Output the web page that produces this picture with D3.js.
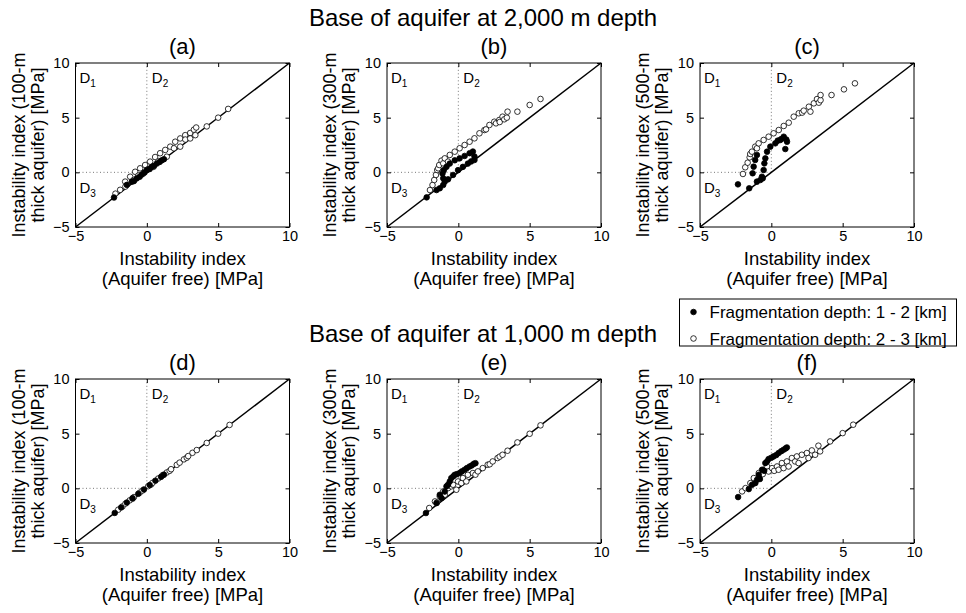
<!DOCTYPE html>
<html>
<head>
<meta charset="utf-8">
<title>Instability index</title>
<script src="https://d3js.org/d3.v7.min.js"></script>
<style>
    body {margin:0; background:#fff;}
    svg {font-family:"Liberation Sans", Arial, Helvetica, sans-serif;}
    .frame {fill:none; stroke:#000; stroke-width:1;}
    .diag {stroke:#000; stroke-width:1.5;}
    .quad {stroke:#777; stroke-width:1; stroke-dasharray:1,2.5;}
    .pt-open {fill:#fff; stroke:#000; stroke-width:0.8;}
    .pt-filled {fill:#000; stroke:#000; stroke-width:0.8;}
</style>
</head>
<body>
<script>
"use strict";

// --- data ---
var ticks = [-5, 0, 5, 10];
var panelLabels = ["(a)", "(b)", "(c)", "(d)", "(e)", "(f)"];
var thicknesses = ["100-m", "300-m", "500-m", "100-m", "300-m", "500-m"];
var rowTitles = ["Base of aquifer at 2,000 m depth", "Base of aquifer at 1,000 m depth"];
var legendLabels = ["Fragmentation depth: 1 - 2 [km]", "Fragmentation depth: 2 - 3 [km]"];

// [aquifer free, with aquifer] pairs, fragmentation depth 1-2 km (filled) and 2-3 km (open)
var aFilled = [[-2.3,-2.3],[-1.4,-1.15],[-1.05,-0.85],[-0.9,-0.8],[-0.7,-0.55],[-0.5,-0.4],[-0.35,-0.2],[-0.15,0],
    [0,0.2],[0.2,0.3],[0.35,0.5],[0.5,0.6],[0.7,0.8],[0.9,0.95],[1.05,1.1],[1.2,1.2]];
var aOpen = [[-2.2,-1.95],[-1.87,-1.6],[-1.52,-0.85],[-1.5,-1.3],[-1.17,-0.4],[-0.93,-0.7],[-0.82,0.05],[-0.6,-0.3],
    [-0.47,0.37],[-0.23,-0.1],[-0.12,0.67],[0.1,0.3],[0.23,0.98],[0.47,0.5],[0.58,1.4],[0.8,1.0],[0.93,1.75],
    [1.29,2.05],[1.4,1.43],[1.64,2.35],[1.9,2.2],[1.99,2.8],[2.34,3.1],[2.34,2.35],[2.69,3.4],[2.7,3.0],
    [3.04,3.6],[3.04,3.1],[3.3,3.9],[3.4,3.4],[3.46,4.1],[4.2,4.2],[5.0,5.0],[5.7,5.8]];

var bFilled = [[-2.22,-2.29],[-1.53,-1.62],[-1.3,-1.46],[-1.06,-1.16],[-0.95,-0.85],[-1.06,-0.55],[-1.11,-0.1],
    [-1.02,0.2],[-0.83,0.5],[-0.6,0.8],[-0.25,1.1],[0.09,1.28],[0.44,1.5],[0.79,1.75],[1.02,1.9],[1.13,1.45],
    [1.13,1.13],[-0.72,-0.64],[-0.37,-0.24],[-0.02,0.2],[0.32,0.5],[0.67,0.8],[0.9,1.0]];
var bOpen = [[-1.99,-1.62],[-1.81,-1.16],[-1.69,-0.7],[-1.57,-0.24],[-1.48,0.21],[-1.41,0.37],[-1.34,0.67],
    [-1.18,1.07],[-1.06,0.82],[-0.95,1.28],[-0.72,0.98],[-0.6,1.59],[-0.25,1.89],[0.09,2.2],[0.44,2.5],
    [0.79,2.8],[1.13,3.11],[1.48,3.57],[1.83,3.87],[1.94,3.93],[2.18,4.33],[2.52,4.63],[2.64,4.48],[2.87,4.79],
    [2.9,4.6],[3.1,5.09],[3.22,4.85],[3.4,5.0],[3.45,5.55],[4.14,5.55],[5.0,6.16],[5.76,6.71]];

var cFilled = [[-2.34,-1.1],[-1.55,-1.46],[-1.31,-0.09],[-1.24,0.52],[-1.13,1.13],[-1.01,1.59],[-1.01,-0.85],
    [-0.77,-0.7],[-0.6,-0.55],[-0.66,-0.4],[-0.54,0.21],[-0.49,0.82],[-0.42,1.28],[-0.3,1.89],[-0.07,2.35],
    [0.28,2.65],[0.45,2.9],[0.63,2.96],[0.7,3.05],[0.87,3.26],[1.05,3.0],[1.1,2.8],[0.98,2.13]];
var cOpen = [[-1.99,-0.15],[-1.83,0.46],[-1.66,0.88],[-1.52,1.37],[-1.48,1.68],[-1.36,1.89],[-1.13,2.35],
    [-1.01,2.2],[-0.89,2.65],[-0.54,2.96],[-0.19,3.26],[0.16,3.57],[0.52,3.87],[0.87,4.24],[1.22,4.54],
    [1.57,5.09],[1.92,5.4],[2.16,5.46],[2.27,5.64],[2.63,6.0],[2.74,5.55],[2.98,6.31],[3.2,6.7],[3.33,6.37],
    [3.45,6.6],[3.45,7.07],[4.22,7.07],[5.09,7.59],[5.86,8.14]];

var dFilled = [[-2.25,-2.25],[-1.8,-1.75],[-1.4,-1.3],[-1.0,-0.9],[-0.6,-0.5],[-0.2,-0.1],[0.2,0.3],
    [0.6,0.7],[1.0,1.05],[1.2,1.25]];
var dOpen = [[-2.0,-1.95],[-1.7,-1.65],[-1.5,-1.4],[-1.2,-1.1],[-1.0,-0.95],[-0.9,-0.8],[-0.5,-0.4],
    [-0.3,-0.2],[0.1,0.2],[0.3,0.35],[0.4,0.5],[0.8,0.9],[1.1,1.2],[1.4,1.45],[1.6,1.6],[1.7,1.75],
    [2.1,2.15],[2.3,2.35],[2.6,2.65],[2.8,2.8],[2.9,2.95],[3.2,3.25],[3.5,3.5],[4.2,4.15],[5.0,5.0],[5.8,5.8]];

var eFilled = [[-2.27,-2.26],[-1.53,-1.35],[-1.3,-0.59],[-1.18,-0.89],[-0.95,-0.3],[-0.83,0.18],[-0.72,0.33],
    [-0.6,0.63],[-0.49,0.94],[-0.35,1.1],[-0.25,1.24],[-0.1,1.3],[0.09,1.4],[0.25,1.55],[0.44,1.7],
    [0.6,1.85],[0.79,2.0],[0.95,2.1],[1.09,2.25],[1.2,2.3]];
var eOpen = [[-2.04,-1.8],[-1.64,-1.2],[-1.5,-1.3],[-1.3,-0.74],[-1.06,-0.28],[-0.95,-0.59],[-0.72,0.02],
    [-0.49,0.18],[-0.37,0.33],[-0.14,-0.13],[-0.02,0.63],[0.21,0.48],[0.32,0.94],[0.56,0.63],[0.67,1.24],
    [1.02,1.4],[1.2,1.25],[1.37,1.55],[1.71,1.85],[2.06,2.16],[2.2,2.2],[2.41,2.46],[2.75,2.77],[2.9,2.9],
    [3.1,3.07],[3.45,3.44],[4.14,4.2],[5.0,4.99],[5.76,5.76]];

var fFilled = [[-2.33,-0.8],[-1.58,-0.07],[-1.35,0.33],[-1.12,0.48],[-1.0,0.79],[-0.8,0.85],[-0.88,1.24],
    [-0.65,1.7],[-0.5,1.6],[-0.42,2.31],[-0.3,2.46],[-0.19,2.68],[0.0,2.8],[0.16,2.92],[0.35,3.05],
    [0.51,3.23],[0.7,3.4],[0.86,3.53],[1.0,3.65],[1.09,3.74]];
var fOpen = [[-2.05,-0.28],[-1.81,0.02],[-1.47,0.48],[-1.23,0.94],[-0.88,1.4],[-0.6,1.3],[-0.53,1.7],
    [-0.3,2.0],[-0.19,1.54],[0.05,1.85],[0.2,1.6],[0.4,2.0],[0.51,1.7],[0.74,2.31],[0.86,1.85],[1.09,2.46],
    [1.21,2.0],[1.44,2.77],[1.67,2.46],[1.79,2.92],[1.91,2.31],[2.14,3.07],[2.49,3.23],[2.6,2.77],
    [2.84,3.47],[3.07,3.07],[3.3,3.9],[3.42,3.38],[4.12,4.29],[5.0,5.05],[5.74,5.82]];

var filledSets = [aFilled, bFilled, cFilled, dFilled, eFilled, fFilled];
var openSets = [aOpen, bOpen, cOpen, dOpen, eOpen, fOpen];

// --- layout ---
var W = 214, H = 164;
var colX = [75.5, 387, 700];
var rowY = [63, 379];

var svg = d3.select("body").append("svg").attr("width", 966).attr("height", 613);

var x = d3.scaleLinear().domain([-5, 10]).range([0, W]);
var y = d3.scaleLinear().domain([-5, 10]).range([H, 0]);

function styleAxis(sel, labels) {
    sel.select(".domain").remove();
    sel.attr("font-family", null).attr("font-size", 14.5);
    sel.selectAll(".tick line").attr("stroke", "#000");
    sel.selectAll(".tick text").attr("fill", "#000");
    if (!labels) sel.selectAll(".tick text").remove();
}

// row titles
rowTitles.forEach(function(t, r) {
    svg.append("text")
        .attr("x", 483).attr("y", r === 0 ? 26 : 342)
        .attr("text-anchor", "middle").attr("font-size", 24)
        .text(t);
});

panelLabels.forEach(function(lab, i) {
    var col = i % 3, row = Math.floor(i / 3);
    var g = svg.append("g").attr("transform", "translate(" + colX[col] + "," + rowY[row] + ")");

    // quadrant guides
    g.append("line").attr("class", "quad")
        .attr("x1", x(0)).attr("x2", x(0)).attr("y1", y(0)).attr("y2", y(10));
    g.append("line").attr("class", "quad")
        .attr("x1", x(-5)).attr("x2", x(0)).attr("y1", y(0)).attr("y2", y(0));

    // 1:1 line
    g.append("line").attr("class", "diag")
        .attr("x1", x(-5)).attr("y1", y(-5)).attr("x2", x(10)).attr("y2", y(10));

    // points
    g.selectAll(".pt-open").data(openSets[i]).join("circle")
        .attr("class", "pt-open")
        .attr("cx", function(d) { return x(d[0]); })
        .attr("cy", function(d) { return y(d[1]); })
        .attr("r", 2.8);
    g.selectAll(".pt-filled").data(filledSets[i]).join("circle")
        .attr("class", "pt-filled")
        .attr("cx", function(d) { return x(d[0]); })
        .attr("cy", function(d) { return y(d[1]); })
        .attr("r", 2.8);

    // axes, ticks pointing inward on all sides
    g.append("g").attr("transform", "translate(0," + H + ")")
        .call(d3.axisBottom(x).tickValues(ticks).tickSize(-4).tickPadding(4))
        .call(styleAxis, true);
    g.append("g")
        .call(d3.axisTop(x).tickValues(ticks).tickSize(-4))
        .call(styleAxis, false);
    g.append("g")
        .call(d3.axisLeft(y).tickValues(ticks).tickSize(-4).tickPadding(6))
        .call(styleAxis, true);
    g.append("g").attr("transform", "translate(" + W + ",0)")
        .call(d3.axisRight(y).tickValues(ticks).tickSize(-4))
        .call(styleAxis, false);

    g.append("rect").attr("class", "frame").attr("width", W).attr("height", H);

    // region labels
    function regionLabel(px, py, sub) {
        var t = g.append("text").attr("x", px).attr("y", py).attr("font-size", 15);
        t.append("tspan").text("D");
        t.append("tspan").attr("font-size", 10).attr("dy", 4).text(sub);
    }
    regionLabel(4, 20, "1");
    regionLabel(x(0) + 5, 20, "2");
    regionLabel(4, y(0) + 21, "3");

    // panel label
    g.append("text").attr("x", W / 2).attr("y", -9)
        .attr("text-anchor", "middle").attr("font-size", 22).text(lab);

    // axis titles
    g.append("text").attr("x", W / 2).attr("y", H + 38)
        .attr("text-anchor", "middle").attr("font-size", 18.5).text("Instability index");
    g.append("text").attr("x", W / 2).attr("y", H + 58)
        .attr("text-anchor", "middle").attr("font-size", 18.5).text("(Aquifer free) [MPa]");
    g.append("text")
        .attr("transform", "translate(-51," + (H / 2) + ") rotate(-90)")
        .attr("text-anchor", "middle").attr("font-size", 18)
        .text("Instability index (" + thicknesses[i]);
    g.append("text")
        .attr("transform", "translate(-32," + (H / 2) + ") rotate(-90)")
        .attr("text-anchor", "middle").attr("font-size", 18)
        .text("thick aquifer) [MPa]");
});

// legend
var lg = svg.append("g").attr("transform", "translate(679.5,299)");
lg.append("rect").attr("width", 277).attr("height", 47)
    .attr("fill", "#fff").attr("stroke", "#000").attr("stroke-width", 1);
legendLabels.forEach(function(t, i) {
    var cy = 13 + i * 26.5;
    lg.append("circle").attr("cx", 14).attr("cy", cy).attr("r", 2.8)
        .attr("class", i === 0 ? "pt-filled" : "pt-open");
    lg.append("text").attr("x", 30).attr("y", cy + 6).attr("font-size", 17).text(t);
});
</script>
</body>
</html>
